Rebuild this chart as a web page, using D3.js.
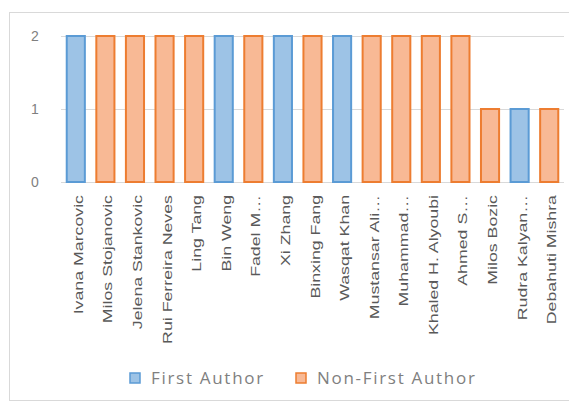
<!DOCTYPE html>
<html>
<head>
<meta charset="utf-8">
<script src="https://cdn.jsdelivr.net/npm/d3@7"></script>
<style>
  body { margin: 0; background: #fff; }
  text { font-family: "Liberation Sans", Arial, sans-serif; }
</style>
</head>
<body>
<div id="chart"></div>
<script>
// authors, in the order they appear on the axis
var authors = ["Ivana Marcovic", "Milos Stojanovic", "Jelena Stankovic", "Rui Ferreira Neves",
  "Ling Tang", "Bin Weng", "Fadel M\u2026", "Xi Zhang", "Binxing Fang", "Wasqat Khan",
  "Mustansar Ali\u2026", "Muhammad\u2026", "Khaled H. Alyoubi", "Ahmed S\u2026", "Milos Bozic",
  "Rudra Kalyan\u2026", "Debahuti Mishra"];
var firstAuthor    = [2, 0, 0, 0, 0, 2, 0, 2, 0, 2, 0, 0, 0, 0, 0, 1, 0];
var nonFirstAuthor = [0, 2, 2, 2, 2, 0, 2, 0, 2, 0, 2, 2, 2, 2, 1, 0, 1];
var seriesNames = ["First Author", "Non-First Author"];
var yTicks = [0, 1, 2];

var W = 569, H = 405;
var m = {left: 61, right: 5, top: 36, bottom: 223};

var svg = d3.select('#chart').append('svg')
  .attr('width', W)
  .attr('height', H);

// chart frame
svg.append('rect')
  .attr('x', 9.5).attr('y', 12.5)
  .attr('width', 570).attr('height', 388)
  .style('fill', '#fff')
  .style('stroke', '#d9d9d9');

var x = d3.scaleBand()
  .domain(authors)
  .range([m.left, W - m.right])
  .paddingInner(0.32)
  .paddingOuter(0.16);

var y = d3.scaleLinear()
  .domain([0, 2])
  .range([H - m.bottom, m.top]);

// gridlines
svg.append('g').selectAll('line')
  .data(yTicks)
  .enter().append('line')
  .attr('x1', m.left).attr('x2', W - m.right)
  .attr('y1', function(d){ return Math.round(y(d)) + 0.5; })
  .attr('y2', function(d){ return Math.round(y(d)) + 0.5; })
  .style('stroke', '#d9d9d9');

// y labels
svg.append('g').selectAll('text')
  .data(yTicks)
  .enter().append('text')
  .attr('x', 35)
  .attr('y', function(d){ return y(d) + 5; })
  .attr('text-anchor', 'middle')
  .attr('font-size', 14)
  .style('fill', '#7f7f7f')
  .text(function(d){ return d; });

var data = authors.map(function(a, i){
  return {name: a, first: firstAuthor[i], non: nonFirstAuthor[i]};
});
var stack = d3.stack().keys(['first', 'non'])(data);
var fills = ['#9dc3e6', '#f8b995'];
var strokes = ['#5b9bd5', '#ed7d31'];

stack.forEach(function(layer, k){
  svg.append('g').selectAll('rect')
    .data(layer.filter(function(d){ return d[1] > d[0]; }))
    .enter().append('rect')
    .attr('x', function(d){ return x(d.data.name) + 1; })
    .attr('width', x.bandwidth() - 2)
    .attr('y', function(d){ return y(d[1]); })
    .attr('height', function(d){ return y(d[0]) - y(d[1]); })
    .style('fill', fills[k])
    .style('stroke', strokes[k])
    .style('stroke-width', 2);
});

// category labels, rotated
svg.append('g').selectAll('text')
  .data(authors)
  .enter().append('text')
  .attr('transform', function(d){
    return 'translate(' + (x(d) + x.bandwidth() / 2 + 7) + ',' + (y(0) + 13) + ') rotate(-90) scale(1.42,1)';
  })
  .attr('text-anchor', 'end')
  .attr('font-size', 12.5)
  .style('fill', '#595959')
  .text(function(d){ return d; });

// legend
var legend = svg.append('g');
var lx = [130, 296];
seriesNames.forEach(function(s, i){
  legend.append('rect')
    .attr('x', lx[i]).attr('y', 373)
    .attr('width', 10).attr('height', 10)
    .style('fill', fills[i])
    .style('stroke', strokes[i])
    .style('stroke-width', 1.5);
  legend.append('text')
    .attr('x', lx[i] + 21).attr('y', 384)
    .attr('font-size', 17)
    .attr('letter-spacing', 1.7)
    .style('font-family', '"Open Sans", sans-serif')
    .style('fill', '#7f7f7f')
    .text(s);
});
</script>
</body>
</html>
